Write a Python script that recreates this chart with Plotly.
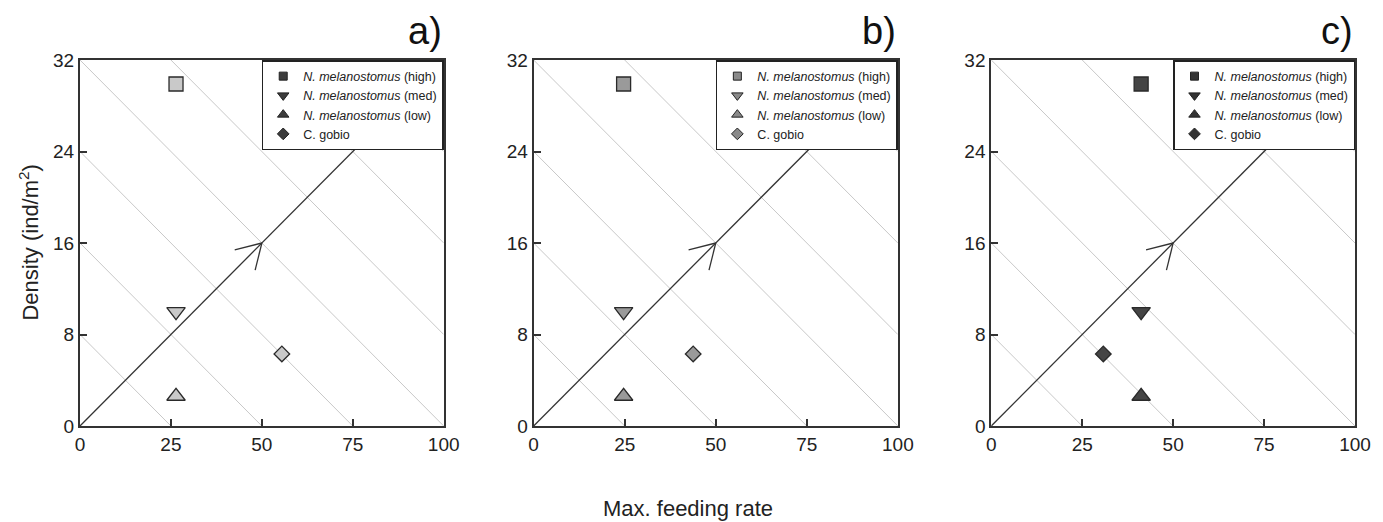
import math
import plotly.graph_objects as go

W, H = 1383, 522

# ---- data ----
series_names = ["<i>N. melanostomus</i> (high)", "<i>N. melanostomus</i> (med)",
                "<i>N. melanostomus</i> (low)", "C. gobio"]
series_symbols = ["square", "triangle-down", "triangle-up", "diamond"]
density = [29.9, 10.0, 2.6, 6.3]
feeding_a = [26.4, 26.4, 26.4, 55.5]
feeding_b = [24.7, 24.7, 24.7, 43.8]
feeding_c = [41.2, 41.2, 41.2, 30.8]
panel_labels = ["a)", "b)", "c)"]
x_ticks = [0, 25, 50, 75, 100]
y_ticks = [0, 8, 16, 24, 32]
iso_levels = [0.25, 0.5, 0.75, 1.0, 1.25, 1.5, 1.75]
arrow_line_x = [0, 100]
arrow_line_y = [0, 32]
arrow_tip = (50, 16)

# ---- layout geometry (pixels) ----
PL, PR = 79.5, 1355.5          # plotting area left/right
PT, PB = 60, 426               # plotting area top/bottom
panel_px = [(79.5, 443.5), (533.5, 898), (991.5, 1355.5)]
X_MAX, Y_MAX = 100, 32

panels = [
    dict(x=feeding_a, fill="#c9c9c9", leg_fill="#3c3c3c"),
    dict(x=feeding_b, fill="#9a9a9a", leg_fill="#8a8a8a"),
    dict(x=feeding_c, fill="#454545", leg_fill="#333333"),
]

fig = go.Figure()
data_sizes = {"square": 14, "triangle-down": 16, "triangle-up": 16, "diamond": 12}
leg_sizes = {"square": 8, "triangle-down": 10, "triangle-up": 10, "diamond": 9}
FONT = "Liberation Sans, Arial"

pw = PR - PL
for i, p in enumerate(panels):
    n = "" if i == 0 else str(i + 1)
    xa, ya = "x" + n, "y" + n
    leg = "legend" + n
    # iso lines
    for k in iso_levels:
        if k <= 1:
            xs, ys = [0, X_MAX * k], [Y_MAX * k, 0]
        else:
            xs, ys = [X_MAX * (k - 1), X_MAX], [Y_MAX, Y_MAX * (k - 1)]
        fig.add_trace(go.Scatter(x=xs, y=ys, mode="lines", xaxis=xa, yaxis=ya,
                                 line=dict(color="#c8c8c8", width=1),
                                 showlegend=False, hoverinfo="skip"))
    # main trajectory line
    fig.add_trace(go.Scatter(x=arrow_line_x, y=arrow_line_y, mode="lines", xaxis=xa, yaxis=ya,
                             line=dict(color="#333333", width=1.3),
                             showlegend=False, hoverinfo="skip"))
    # open arrowhead (two strokes), computed in pixel space then converted to data units
    px0, px1 = panel_px[i]
    sx = (px1 - px0) / X_MAX
    sy = (PB - PT) / Y_MAX
    ang = math.atan2(arrow_line_y[1] * sy, arrow_line_x[1] * sx)
    head_len, half = 28, math.radians(31)
    hx, hy = [], []
    for sgn in (1, -1):
        a = ang + math.pi + sgn * half
        hx += [arrow_tip[0] + head_len * math.cos(a) / sx, arrow_tip[0], None]
        hy += [arrow_tip[1] + head_len * math.sin(a) / sy, arrow_tip[1], None]
    fig.add_trace(go.Scatter(x=hx, y=hy, mode="lines", xaxis=xa, yaxis=ya,
                             line=dict(color="#333333", width=1.3),
                             showlegend=False, hoverinfo="skip"))
    # data markers
    for j in range(4):
        fig.add_trace(go.Scatter(x=[p["x"][j]], y=[density[j]], mode="markers",
                                 xaxis=xa, yaxis=ya,
                                 marker=dict(symbol=series_symbols[j], size=data_sizes[series_symbols[j]],
                                             color=p["fill"], line=dict(color="#2a2a2a", width=1.3)),
                                 showlegend=False, name=series_names[j]))
    # legend entries
    for j in range(4):
        fig.add_trace(go.Scatter(x=[None], y=[None], mode="markers", xaxis=xa, yaxis=ya,
                                 marker=dict(symbol=series_symbols[j], size=leg_sizes[series_symbols[j]],
                                             color=p["leg_fill"], line=dict(color="#222222", width=1)),
                                 name=series_names[j], legend=leg, showlegend=True))
    x0, x1 = (px0 - PL) / pw, (px1 - PL) / pw
    axis_common = dict(showgrid=False, zeroline=False, showline=True, mirror=True,
                       linecolor="#333333", linewidth=2, ticks="inside", ticklen=7,
                       tickwidth=1.5, tickcolor="#333333", automargin=False,
                       tickfont=dict(family=FONT, size=19, color="#222222"))
    fig.update_layout({
        "xaxis" + n: dict(domain=[x0, x1], range=[0, X_MAX], tickvals=x_ticks,
                          anchor=ya, **axis_common),
        "yaxis" + n: dict(domain=[0, 1], range=[0, Y_MAX], tickvals=y_ticks,
                          anchor=xa, **axis_common),
        leg: dict(x=x1, y=1, xanchor="right", yanchor="top",
                  bgcolor="white", bordercolor="#222222", borderwidth=1.5,
                  font=dict(family=FONT, size=12.5, color="#222222"),
                  itemsizing="trace", tracegroupgap=0),
    })
    # panel label
    fig.add_annotation(x=x1, y=1 + (PT - 31) / (PB - PT), xref="paper", yref="paper",
                       text=panel_labels[i], showarrow=False, xanchor="right", yanchor="middle",
                       font=dict(family=FONT, size=38, color="#111111"))

fig.add_annotation(x=(688 - PL) / pw, y=-(508 - PB) / (PB - PT), xref="paper", yref="paper",
                   text="Max. feeding rate", showarrow=False, xanchor="center", yanchor="middle",
                   font=dict(family=FONT, size=22, color="#222222"))
fig.add_annotation(x=(28 - PL) / pw, y=(PB - 243) / (PB - PT), xref="paper", yref="paper",
                   text="Density (ind/m<sup>2</sup>)", showarrow=False, xanchor="center",
                   yanchor="middle", textangle=-90,
                   font=dict(family=FONT, size=22, color="#222222"))

fig.update_layout(width=W, height=H,
                  margin=dict(l=PL, r=W - PR, t=PT, b=H - PB, pad=0, autoexpand=False),
                  plot_bgcolor="white", paper_bgcolor="white")
fig.write_html("out.html", config={"displayModeBar": False},
               post_script="document.body.style.margin='0';document.body.style.overflow='hidden';")
